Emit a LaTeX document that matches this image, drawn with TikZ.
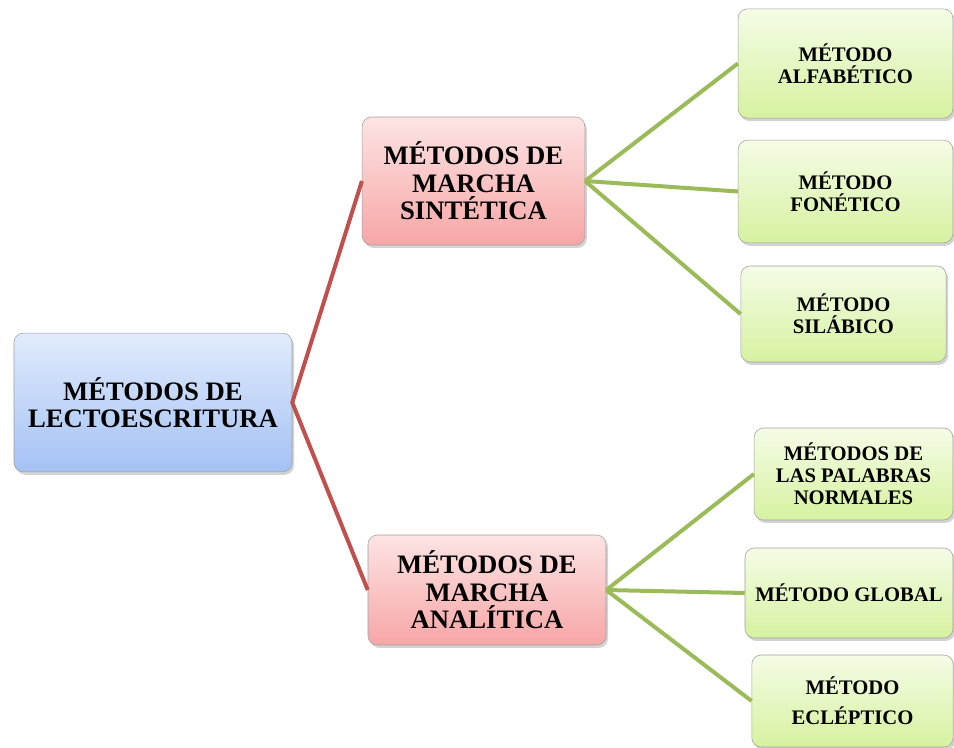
\documentclass[tikz,border=0pt]{standalone}
\usepackage{fontspec}
\setmainfont{Liberation Serif}
\usetikzlibrary{shadows}
\definecolor{redline}{HTML}{C0504D}
\definecolor{greenline}{HTML}{9BBB59}

\begin{document}
\begin{tikzpicture}[x=0.75pt, y=-0.75pt]

\tikzstyle{box}=[rectangle, rounded corners=7pt, draw=gray!75, thin, align=center, inner sep=2pt,
  drop shadow={opacity=0.35, shadow xshift=1.5pt, shadow yshift=-2.2pt}]
\tikzstyle{rootbox}=[box, top color={rgb,255:red,225;green,235;blue,253}, bottom color={rgb,255:red,164;green,194;blue,244}, font=\fontsize{20}{20}\selectfont\bfseries]
\tikzstyle{midbox}=[box, top color={rgb,255:red,253;green,228;blue,228}, bottom color={rgb,255:red,247;green,166;blue,166}, font=\fontsize{20}{20.5}\selectfont\bfseries]
\tikzstyle{leafbox}=[box, top color={rgb,255:red,245;green,252;blue,230}, bottom color={rgb,255:red,214;green,242;blue,160}, font=\fontsize{15.5}{16.5}\selectfont\bfseries]
\tikzstyle{redlink}=[redline, line width=3pt]
\tikzstyle{greenlink}=[greenline, line width=3pt]

\useasboundingbox (0,0) rectangle (954,747);

% root
\node[rootbox, minimum width=208.5pt, minimum height=104pt] (root) at (153,402.5) {MÉTODOS DE\\LECTOESCRITURA};

% second level
\node[midbox, minimum width=167pt, minimum height=96pt] (sint) at (473.5,181) {MÉTODOS DE\\MARCHA\\SINTÉTICA};
\node[midbox, minimum width=178.5pt, minimum height=82.5pt] (anal) at (487,590) {MÉTODOS DE\\MARCHA\\ANALÍTICA};

% leaves
\node[leafbox, minimum width=161pt, minimum height=82pt] (alfa) at (845.5,63.5) {MÉTODO\\ALFABÉTICO};
\node[leafbox, minimum width=161pt, minimum height=77pt] (fone) at (845.5,191.5) {MÉTODO\\FONÉTICO};
\node[leafbox, minimum width=154pt, minimum height=72pt] (sila) at (843.5,314) {MÉTODO\\SILÁBICO};
\node[leafbox, minimum width=149pt, minimum height=69pt] (pala) at (853.5,474) {MÉTODOS DE\\LAS PALABRAS\\NORMALES};
\node[leafbox, minimum width=156pt, minimum height=67.5pt] (glob) at (849,593) {MÉTODO GLOBAL};
\node[leafbox, minimum width=151pt, minimum height=69pt] (ecle) at (852.5,701) {MÉTODO\\[6pt]ECLÉPTICO};

% links
\draw[redlink] (sint.west) -- (root.east) -- (anal.west);
\foreach \leaf in {alfa, fone, sila}
  \draw[greenlink] (sint.east) -- (\leaf.west);
\foreach \leaf in {pala, glob, ecle}
  \draw[greenlink] (anal.east) -- (\leaf.west);

\end{tikzpicture}
\end{document}
